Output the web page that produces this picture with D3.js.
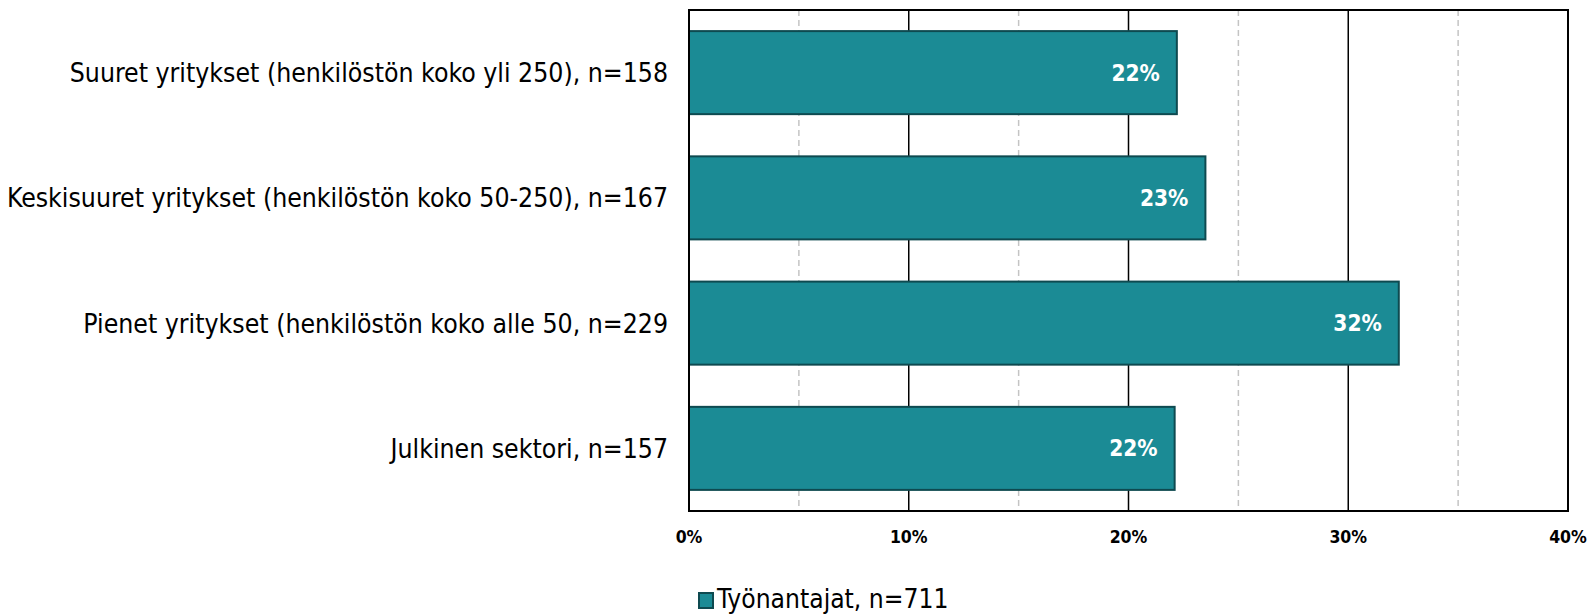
<!DOCTYPE html>
<html>
<head>
<meta charset="utf-8">
<script src="https://cdn.jsdelivr.net/npm/d3@7"></script>
<style>
  body { margin: 0; background: #fff; }
  svg { display: block; }
</style>
</head>
<body>
<svg id="chart"></svg>
<script>
// data
const categories = [
  'Suuret yritykset (henkilöstön koko yli 250), n=158',
  'Keskisuuret yritykset (henkilöstön koko 50-250), n=167',
  'Pienet yritykset (henkilöstön koko alle 50, n=229',
  'Julkinen sektori, n=157'
];
const values = [22.2, 23.5, 32.3, 22.1];
const valueLabels = ['22%', '23%', '32%', '22%'];
const majorTicks = [0, 10, 20, 30, 40];
const minorTicks = [5, 15, 25, 35];
const seriesName = 'Työnantajat, n=711';

const W = 1590, H = 615;
const FONT = '"DejaVu Sans Condensed", "DejaVu Sans", sans-serif';
const FILL = '#1b8b95', STROKE = '#0e4a50';
const TOP = 10, BOTTOM = 511;

const svg = d3.select('#chart').attr('width', W).attr('height', H);

const x = d3.scaleLinear().domain([0, 40]).range([689, 1568]);
const y = d3.scaleBand().domain(categories).range([TOP, BOTTOM]).paddingInner(0.337).paddingOuter(0.1685);

// grid
const g = svg.append('g');
g.selectAll('line.minor').data(minorTicks).join('line')
  .attr('x1', d => x(d)).attr('x2', d => x(d))
  .attr('y1', TOP).attr('y2', BOTTOM)
  .attr('stroke', '#c4c4c4').attr('stroke-width', 1.5)
  .attr('stroke-dasharray', '6,4');
g.selectAll('line.major').data(majorTicks.slice(1, -1)).join('line')
  .attr('x1', d => x(d)).attr('x2', d => x(d))
  .attr('y1', TOP).attr('y2', BOTTOM)
  .attr('stroke', '#000').attr('stroke-width', 1.5);

// bars
g.selectAll('rect.bar').data(values).join('rect')
  .attr('x', x(0))
  .attr('y', (d, i) => y(categories[i]))
  .attr('width', d => x(d) - x(0))
  .attr('height', y.bandwidth())
  .attr('fill', FILL)
  .attr('stroke', STROKE).attr('stroke-width', 2);

// value labels
g.selectAll('text.val').data(values).join('text')
  .attr('x', d => x(d) - 17)
  .attr('y', (d, i) => y(categories[i]) + y.bandwidth() / 2)
  .attr('dy', '0.36em')
  .attr('text-anchor', 'end')
  .attr('fill', '#fff')
  .attr('font-family', FONT).attr('font-weight', 700).attr('font-size', 22.5)
  .text((d, i) => valueLabels[i]);

// frame
svg.append('rect')
  .attr('x', x(0)).attr('y', TOP)
  .attr('width', x(40) - x(0)).attr('height', BOTTOM - TOP)
  .attr('fill', 'none').attr('stroke', '#000').attr('stroke-width', 2);

// category labels
svg.selectAll('text.cat').data(categories).join('text')
  .attr('x', 668)
  .attr('y', d => y(d) + y.bandwidth() / 2)
  .attr('dy', '0.36em')
  .attr('text-anchor', 'end')
  .attr('font-family', FONT).attr('font-size', 26.4)
  .attr('fill', '#000')
  .text(d => d);

// x tick labels
svg.selectAll('text.tick').data(majorTicks).join('text')
  .attr('x', d => x(d))
  .attr('y', 543)
  .attr('text-anchor', 'middle')
  .attr('font-family', FONT).attr('font-weight', 700).attr('font-size', 17.5)
  .attr('fill', '#000')
  .text(d => d + '%');

// legend
const lg = svg.append('g').attr('transform', 'translate(699,593)');
lg.append('rect').attr('width', 14).attr('height', 15)
  .attr('fill', FILL).attr('stroke', STROKE).attr('stroke-width', 2);
lg.append('text').attr('x', 18).attr('y', 15)
  .attr('font-family', FONT).attr('font-size', 26.2).attr('fill', '#000')
  .text(seriesName);
</script>
</body>
</html>
